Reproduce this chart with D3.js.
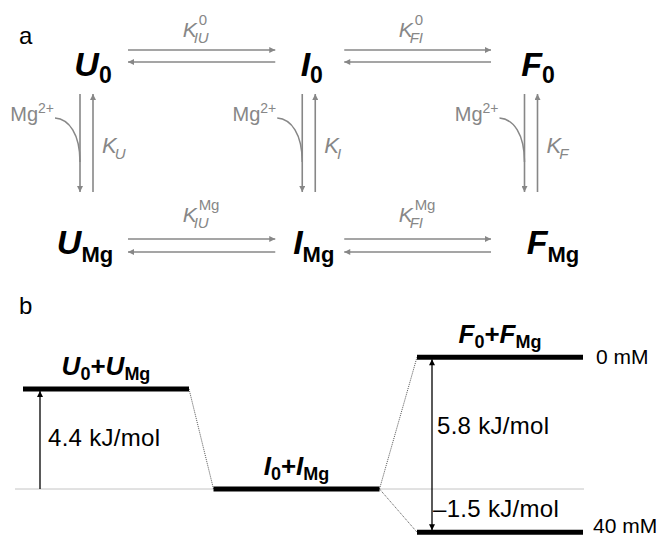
<!DOCTYPE html>
<html><head><meta charset="utf-8">
<script src="https://cdn.jsdelivr.net/npm/d3@7"></script>
<style>body{margin:0;background:#fff} svg{display:block} text{font-family:"Liberation Sans",Arial,Helvetica,sans-serif}</style>
</head><body><svg id="c" width="662" height="538"></svg>
<script>
// ---------- data ----------
const states = ["U", "I", "F"];
const conditions = ["0", "Mg"];
const equilibria = [{from: "U", to: "I", sub: "IU"}, {from: "I", to: "F", sub: "FI"}];
const bindingSubs = ["U", "I", "F"];
const levelStates = ["U", "I", "F", "F"];
const levelLabelsMain = [["U", "U"], ["I", "I"], ["F", "F"], null];
const levelEnergy = [4.4, 0, 5.8, -1.9];          // kJ/mol, relative to I
const gapValues = ["4.4 kJ/mol", "5.8 kJ/mol", "–1.5 kJ/mol"];
const concLabels = ["0 mM", "40 mM"];

// ---------- setup ----------
const svg = d3.select("#c");
const gray = "#878787";
const defs = svg.append("defs");
function marker(id, color, w, h) {
  defs.append("marker").attr("id", id).attr("viewBox", "0 0 10 10")
    .attr("refX", 10).attr("refY", 5).attr("markerUnits", "userSpaceOnUse")
    .attr("markerWidth", w).attr("markerHeight", h).attr("orient", "auto-start-reverse")
    .append("path").attr("d", "M0,0L10,5L0,10Z").attr("fill", color);
}
marker("ga", gray, 10, 6);
marker("ba", "#000", 8, 6);

// panel labels
svg.append("text").attr("x", 19).attr("y", 44).attr("font-size", 24).text("a");
svg.append("text").attr("x", 19).attr("y", 314).attr("font-size", 24).text("b");

// ---------- panel a ----------
const xA = d3.scalePoint().domain(states).range([86.5, 531]);
const rows = {
  "0":  {species: 76, sub: 82, arrows: [50, 62], K: 37},
  "Mg": {species: 254, sub: 261, arrows: [239, 252], K: 222}
};
const speciesDx = {"0": [6.5, 3, 7], "Mg": [-1.5, 5, 22]};
const ga = svg.append("g");

conditions.forEach(c => {
  const r = rows[c];
  states.forEach((s, i) => {
    const t = ga.append("text").attr("x", xA(s) + speciesDx[c][i]).attr("y", r.species)
      .attr("text-anchor", "middle").attr("font-weight", "bold");
    t.append("tspan").attr("font-style", "italic").attr("font-size", 34).text(s);
    t.append("tspan").attr("font-size", c === "0" ? 23 : 22).attr("dy", r.sub - r.species + 1).text(c);
  });
  equilibria.forEach((e, k) => {
    const x0 = xA(e.from) + (k === 0 ? 41.5 : 35.5);
    const x1 = xA(e.to) - (k === 0 ? 33.5 : 40);
    ga.append("line").attr("x1", x0).attr("x2", x1).attr("y1", r.arrows[0]).attr("y2", r.arrows[0])
      .attr("stroke", gray).attr("stroke-width", 1.6).attr("marker-end", "url(#ga)");
    ga.append("line").attr("x1", x1).attr("x2", x0).attr("y1", r.arrows[1]).attr("y2", r.arrows[1])
      .attr("stroke", gray).attr("stroke-width", 1.6).attr("marker-end", "url(#ga)");
    const mx = (x0 + x1) / 2;
    const t = ga.append("text").attr("x", mx - 19).attr("y", r.K).attr("fill", gray).attr("font-style", "italic");
    t.append("tspan").attr("font-size", 21).text("K");
    t.append("tspan").attr("font-size", 15).attr("dx", -3).attr("dy", 6).text(e.sub);
    ga.append("text").attr("x", mx - 3).attr("y", r.K - 12).attr("fill", gray).attr("font-size", 15).text(c);
  });
});

// vertical binding equilibria
const vTop = 94, vBot = 192;
states.forEach((s, i) => {
  const xl = xA(s) - 6.5, xr = xA(s) + 6.5;
  ga.append("line").attr("x1", xl).attr("x2", xl).attr("y1", vTop).attr("y2", vBot)
    .attr("stroke", gray).attr("stroke-width", 1.6).attr("marker-end", "url(#ga)");
  ga.append("line").attr("x1", xr).attr("x2", xr).attr("y1", vBot).attr("y2", vTop)
    .attr("stroke", gray).attr("stroke-width", 1.6).attr("marker-end", "url(#ga)");
  // Mg2+ label and curved arrow
  const t = ga.append("text").attr("x", xl - 26).attr("y", 121).attr("text-anchor", "end").attr("fill", gray);
  t.append("tspan").attr("font-size", 20).text("Mg");
  t.append("tspan").attr("font-size", 14).attr("dy", -8).text("2+");
  const x0 = xl - 25, y0 = 118;
  ga.append("path").attr("d", `M${x0},${y0} C${x0 + 14},${y0 + 1} ${xl},${y0 + 16} ${xl},${y0 + 44}`)
    .attr("fill", "none").attr("stroke", gray).attr("stroke-width", 1.5);
  const k = ga.append("text").attr("x", xr + 9).attr("y", 153).attr("fill", gray).attr("font-style", "italic");
  k.append("tspan").attr("font-size", 22).text("K");
  k.append("tspan").attr("font-size", 15).attr("dx", -2).attr("dy", 6).text(bindingSubs[i]);
});

// ---------- panel b ----------
const yE = d3.scaleLinear().domain([0, 4.4]).range([489, 389]);
const xB = d3.scaleOrdinal().domain(states).range([106, 296.5, 500]);
const halfW = 83;
const gb = svg.append("g");

// reference line at I level
gb.append("line").attr("x1", 15).attr("x2", xB("I") - halfW).attr("y1", yE(0)).attr("y2", yE(0))
  .attr("stroke", "#b5b5b5").attr("stroke-width", 0.8);
gb.append("line").attr("x1", xB("I") + halfW).attr("x2", xB("F") + halfW + 1).attr("y1", yE(0)).attr("y2", yE(0))
  .attr("stroke", "#b5b5b5").attr("stroke-width", 0.8);

// dotted connectors
const conn = [[0, 1], [1, 2], [1, 3]];
conn.forEach(([a, b]) => {
  const xa = xB(levelStates[a]) + halfW, xb = xB(levelStates[b]) - halfW;
  gb.append("line").attr("x1", xa).attr("x2", xb).attr("y1", yE(levelEnergy[a])).attr("y2", yE(levelEnergy[b]))
    .attr("stroke", "#555").attr("stroke-width", 1).attr("stroke-dasharray", "1,1");
});

// levels
levelEnergy.forEach((e, i) => {
  const cx = xB(levelStates[i]);
  gb.append("line").attr("x1", cx - halfW).attr("x2", cx + halfW).attr("y1", yE(e)).attr("y2", yE(e))
    .attr("stroke", "#000").attr("stroke-width", 5);
  const lab = levelLabelsMain[i];
  if (lab) {
    const t = gb.append("text").attr("x", cx).attr("y", yE(e) - 14).attr("text-anchor", "middle").attr("font-weight", "bold");
    t.append("tspan").attr("font-style", "italic").attr("font-size", 26).text(lab[0]);
    t.append("tspan").attr("font-size", 18).attr("dy", 5).text("0");
    t.append("tspan").attr("font-size", 26).attr("dy", -5).text("+");
    t.append("tspan").attr("font-style", "italic").attr("font-size", 26).text(lab[1]);
    t.append("tspan").attr("font-size", 18).attr("dy", 5).text("Mg");
  }
});

// energy arrows
gb.append("line").attr("x1", 40).attr("x2", 40).attr("y1", yE(0)).attr("y2", yE(levelEnergy[0]) + 2)
  .attr("stroke", "#000").attr("stroke-width", 1.3).attr("marker-end", "url(#ba)");
const xd = xB("F") - halfW + 15;
gb.append("line").attr("x1", xd).attr("x2", xd).attr("y1", yE(levelEnergy[2]) + 2).attr("y2", yE(levelEnergy[3]) - 2)
  .attr("stroke", "#000").attr("stroke-width", 1.3).attr("marker-start", "url(#ba)").attr("marker-end", "url(#ba)");

const gapStyle = t => t.attr("font-size", 24).attr("letter-spacing", 0.3);
gapStyle(gb.append("text").attr("x", 48).attr("y", 446)).text(gapValues[0]);
gapStyle(gb.append("text").attr("x", xd + 5).attr("y", 434)).text(gapValues[1]);
gapStyle(gb.append("text").attr("x", xd + 1).attr("y", 517)).text(gapValues[2]);

gb.append("text").attr("x", 596).attr("y", yE(levelEnergy[2]) + 7).attr("font-size", 21).text(concLabels[0]);
gb.append("text").attr("x", 593).attr("y", yE(levelEnergy[3]) + 1).attr("font-size", 21).text(concLabels[1]);
</script></body></html>
